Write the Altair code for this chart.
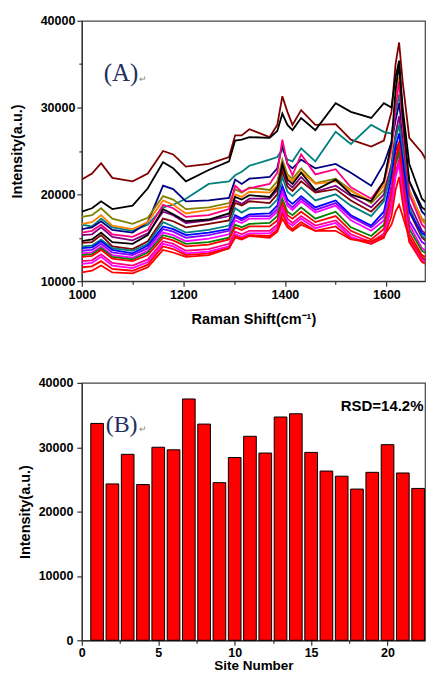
import altair as alt
import pandas as pd

# ---------------- Panel A: Raman spectra ----------------
shift = [1000, 1020, 1038, 1060, 1100, 1130, 1160, 1180, 1205, 1250, 1290, 1302, 1315, 1330, 1370, 1385,
         1395, 1405, 1415, 1432, 1460, 1500, 1530, 1570, 1595, 1610, 1618, 1625, 1632, 1645, 1670, 1700]

wine1 = [21700, 22400, 23600, 21900, 21500, 22400, 25000, 24600, 23200, 23500, 24300, 26800, 26800, 27500, 26600, 28000,
         31300, 29500, 28000, 29700, 28000, 28100, 26300, 25500, 26200, 29500, 35000, 37500, 33000, 26500, 24800, 21700]
black1 = [18000, 18400, 19200, 18300, 18700, 20700, 23700, 23000, 21500, 22800, 23800, 26200, 26300, 26600, 26500, 27300,
          29300, 28000, 27400, 28800, 27400, 30500, 29500, 28800, 30500, 30000, 33500, 35400, 30000, 23500, 19500, 17700]
teal1 = [16500, 16300, 17200, 16200, 15800, 16500, 18500, 18800, 19500, 21200, 21500, 22200, 22600, 23300, 24000, 24300,
         25200, 24000, 23800, 25300, 23800, 27200, 25800, 28000, 27200, 27000, 29500, 31500, 27000, 20500, 17000, 15300]
navy1 = [16000, 16200, 16900, 15900, 15600, 16800, 21000, 20600, 19200, 19300, 19600, 21700, 21200, 21800, 22000, 23000,
         25700, 23500, 23000, 24000, 23000, 23500, 22500, 21000, 23500, 26000, 28500, 30500, 27000, 21500, 18000, 16300]
olive1 = [17400, 17600, 18400, 17200, 16600, 17300, 19800, 19400, 18300, 18500, 19000, 20600, 20200, 20800, 20500, 21500,
          24000, 22300, 21800, 23000, 21300, 21800, 20500, 19000, 20500, 23000, 26500, 28000, 25000, 20000, 17200, 15700]
orange1 = [16600, 16800, 17600, 16400, 16000, 16800, 19300, 18800, 17800, 18200, 18600, 20000, 19700, 20300, 20200, 21000,
           23600, 22000, 21500, 22600, 21200, 21500, 20400, 19200, 21000, 25000, 31000, 33500, 28000, 20500, 17000, 15500]
pink1 = [15600, 15800, 16500, 15400, 15100, 15900, 18800, 18400, 17400, 17600, 18300, 21000, 20300, 20700, 21200, 22500,
         26300, 23500, 22200, 24600, 22300, 22900, 20800, 19500, 21500, 25500, 30000, 33000, 28000, 20000, 16500, 14800]
purple1 = [15300, 15400, 16200, 15100, 14700, 15500, 18000, 17600, 16700, 17000, 17500, 19300, 18900, 19500, 19500, 20500,
           23200, 21300, 20800, 22000, 20300, 21000, 19800, 18500, 20000, 23500, 27000, 29000, 25500, 19000, 15800, 14300]
black2 = [14600, 14800, 15600, 14500, 14300, 15300, 18300, 17700, 16900, 17100, 17800, 19700, 19400, 19900, 19700, 20800,
          23500, 21700, 21200, 22500, 20500, 21700, 20000, 19200, 21500, 26000, 32000, 35000, 29000, 21500, 18500, 17200]
wine2 = [14400, 14500, 15300, 14000, 13700, 14600, 17200, 16900, 16200, 16600, 17000, 19000, 18700, 19200, 19000, 20000,
         22600, 20900, 20400, 21500, 20200, 20600, 19300, 18000, 19500, 22500, 25000, 26000, 23500, 18000, 15000, 13600]
teal2 = [14000, 14100, 14800, 13800, 13500, 14300, 16800, 16300, 15600, 15900, 16400, 18400, 17900, 18400, 18500, 19400,
         22000, 20300, 19800, 20800, 19300, 20000, 18700, 17500, 19200, 23000, 26500, 28000, 25000, 18500, 15200, 13800]
blue1 = [13800, 13900, 14600, 13600, 13200, 14100, 16300, 16000, 15300, 15600, 16000, 17600, 17200, 17700, 17800, 18700,
         21000, 19400, 18900, 19800, 18500, 19300, 17600, 16400, 18000, 22000, 25500, 27000, 24000, 18000, 15500, 14500]
violet1 = [13500, 13600, 14300, 13300, 13000, 13800, 16000, 15700, 15000, 15300, 15800, 17400, 17000, 17500, 17500, 18300,
           20500, 19000, 18500, 19500, 18200, 19000, 17400, 16200, 17500, 21000, 24000, 25500, 22500, 17000, 14500, 13300]
magenta1 = [13200, 13300, 14000, 13000, 12700, 13500, 15600, 15300, 14600, 14900, 15400, 17000, 16700, 17200, 17200, 18000,
            20200, 18700, 18200, 19200, 17900, 18700, 17000, 15800, 17000, 20500, 23500, 24500, 21500, 16500, 13800, 12700]
green1 = [13000, 13100, 13800, 12800, 12500, 13300, 15300, 15000, 14300, 14500, 15000, 16500, 16200, 16600, 16700, 17500,
          19500, 18000, 17600, 18500, 17200, 18000, 16200, 15200, 16500, 20000, 23500, 25000, 21500, 16000, 13500, 12500]
red1 = [12800, 12900, 13600, 12600, 12300, 13000, 15000, 14700, 14000, 14200, 14800, 16200, 15900, 16300, 16300, 17000,
        19000, 17600, 17200, 18000, 16800, 17500, 15800, 14800, 16000, 20000, 24000, 26000, 22000, 15500, 13000, 12000]
pink2 = [12300, 12400, 13100, 12100, 11800, 12500, 14600, 14300, 13500, 13700, 14300, 15700, 15400, 15800, 15800, 16500,
         18600, 17200, 16700, 17500, 16400, 17000, 15400, 14500, 15500, 19000, 22500, 24000, 20500, 15000, 12600, 11600]
magenta2 = [12000, 12100, 12800, 11800, 11500, 12200, 14300, 14000, 13200, 13400, 14000, 15400, 15100, 15500, 15500, 16200,
            18200, 16800, 16400, 17200, 16100, 16700, 15100, 14300, 15200, 18500, 22000, 23500, 20000, 14800, 12400, 11400]
red2 = [11600, 11700, 12300, 11400, 11200, 11900, 14000, 13700, 13000, 13200, 13800, 15200, 14900, 15300, 15200, 15900,
        17800, 16500, 16000, 16800, 15800, 16300, 14900, 14300, 15000, 17500, 20500, 22000, 19000, 14500, 12200, 11300]
red3 = [11000, 11200, 11800, 11000, 10900, 11600, 13600, 13300, 12800, 13000, 13800, 15000, 14800, 15200, 15000, 15700,
        17200, 16200, 15800, 16500, 15800, 15800, 14800, 14600, 15200, 16500, 18000, 18800, 17500, 15000, 12800, 11300]

series_names = ["s01", "s02", "s03", "s04", "s05", "s06", "s07", "s08", "s09", "s10",
                "s11", "s12", "s13", "s14", "s15", "s16", "s17", "s18", "s19", "s20"]
series_colors = ["#800000", "#000000", "#008080", "#000080", "#808000", "#FF8000", "#FF0080", "#800080", "#000000", "#800000",
                 "#008080", "#0000FF", "#8000FF", "#FF00FF", "#008000", "#FF0000", "#FF0080", "#FF00FF", "#FF0000", "#FF0000"]
series_values = [wine1, black1, teal1, navy1, olive1, orange1, pink1, purple1, black2, wine2,
                 teal2, blue1, violet1, magenta1, green1, red1, pink2, magenta2, red2, red3]

x_ticks_a = [1000, 1100, 1200, 1300, 1400, 1500, 1600]
y_ticks_a = [10000, 15000, 20000, 25000, 30000, 35000, 40000]

# ---------------- Panel B: bar chart ----------------
sites = list(range(1, 23))
site_intensity = [33700, 24300, 28900, 24200, 30000, 29600, 37500, 33600, 24500, 28400, 31700,
                  29100, 34700, 35200, 29200, 26300, 25500, 23500, 26100, 30400, 26000, 23600]
x_ticks_b = [0, 2.5, 5, 7.5, 10, 12.5, 15, 17.5, 20, 22.5]
y_ticks_b = [0, 5000, 10000, 15000, 20000, 25000, 30000, 35000, 40000]

panel_labels = ["(A)", "(B)"]
return_mark = "↵"
rsd_label = "RSD=14.2%"

rows = []
for name, vals in zip(series_names, series_values):
    assert len(vals) == len(shift), name
    for s, v in zip(shift, vals):
        rows.append({"series": name, "shift": s, "intensity": v})
spec_df = pd.DataFrame(rows)
bar_df = pd.DataFrame({"site": sites, "intensity": site_intensity})

FONT = "Liberation Sans"
SERIF = "Liberation Serif"
AX = "#333333"
W = 344

x_a = alt.X("shift:Q",
            scale=alt.Scale(domain=[1000, 1676], nice=False, zero=False),
            axis=alt.Axis(title="Raman Shift(cm⁻¹)", values=x_ticks_a, format="d",
                          labelExpr="datum.value % 200 == 0 ? datum.label : ''",
                          tickSize={"condition": {"test": "datum.value % 200 == 0", "value": 5}, "value": 3},
                          labelFlush=False, labelPadding=2, titlePadding=12))
y_a = alt.Y("intensity:Q",
            scale=alt.Scale(domain=[10000, 40000], nice=False, zero=False),
            axis=alt.Axis(title="Intensity(a.u.)", values=y_ticks_a, format="d",
                          labelExpr="datum.value % 10000 == 0 ? datum.label : ''",
                          tickSize={"condition": {"test": "datum.value % 10000 == 0", "value": 5}, "value": 3},
                          labelFlush=False, labelPadding=2, titlePadding=16))

lines = alt.Chart(spec_df).mark_line(strokeWidth=1.8, clip=True).encode(
    x=x_a, y=y_a,
    color=alt.Color("series:N", scale=alt.Scale(domain=series_names, range=series_colors), legend=None),
)

text_a = alt.Chart(pd.DataFrame({"t": [panel_labels[0]]})).mark_text(
    font=SERIF, fontSize=25, color="#1F2F5F", align="left", baseline="middle"
).encode(text="t:N", x=alt.datum(1043), y=alt.datum(34000))
ret_a = alt.Chart(pd.DataFrame({"t": [return_mark]})).mark_text(
    font=FONT, fontSize=9, color="#888888", align="left", baseline="middle"
).encode(text="t:N", x=alt.datum(1112), y=alt.datum(33300))

top = alt.layer(lines, text_a, ret_a).properties(width=W, height=261)

x_b = alt.X("site:Q",
            scale=alt.Scale(domain=[0, 22.45], nice=False, zero=False, padding=0),
            axis=alt.Axis(title="Site Number", values=x_ticks_b, format="d",
                          labelExpr="datum.value % 5 == 0 ? datum.label : ''",
                          tickSize={"condition": {"test": "datum.value % 5 == 0", "value": 5}, "value": 3},
                          labelFlush=False, labelPadding=1, titlePadding=0, titleFontSize=13.5))
y_b = alt.Y("intensity:Q",
            scale=alt.Scale(domain=[0, 40000], nice=False),
            axis=alt.Axis(title="Intensity(a.u.)", values=y_ticks_b, format="d",
                          labelExpr="datum.value % 10000 == 0 ? datum.label : ''",
                          tickSize={"condition": {"test": "datum.value % 10000 == 0", "value": 5}, "value": 3},
                          labelFlush=False, labelPadding=4, titlePadding=6))

bars = alt.Chart(bar_df).mark_bar(size=12.7, color="#FF0000", stroke="#000000", strokeWidth=1).encode(
    x=x_b, y=y_b)

text_b = alt.Chart(pd.DataFrame({"t": [panel_labels[1]]})).mark_text(
    font=SERIF, fontSize=24, color="#1F2F5F", align="left", baseline="middle"
).encode(text="t:N", x=alt.datum(1.56), y=alt.datum(33500))
ret_b = alt.Chart(pd.DataFrame({"t": [return_mark]})).mark_text(
    font=FONT, fontSize=9, color="#888888", align="left", baseline="middle"
).encode(text="t:N", x=alt.datum(3.72), y=alt.datum(32800))
rsd = alt.Chart(pd.DataFrame({"t": [rsd_label]})).mark_text(
    font=FONT, fontSize=15, fontWeight="bold", color="#000000", align="right", baseline="middle"
).encode(text="t:N", x=alt.datum(22.35), y=alt.datum(36400))

bottom = alt.layer(bars, text_b, ret_b, rsd).properties(width=W, height=258)

chart = alt.vconcat(top, bottom, spacing=49).properties(
    padding={"left": 0, "top": 5, "right": 0, "bottom": -2}
).configure_view(
    stroke="#444444", strokeWidth=1.2
).configure_axis(
    grid=False, domainColor=AX, tickColor=AX, domainWidth=1.2, tickWidth=1.2,
    labelFont=FONT, labelFontWeight="bold", labelFontSize=12.5, labelColor="#000000",
    titleFont=FONT, titleFontWeight="bold", titleFontSize=14.5, titleColor="#000000",
)

chart.save("out.html", embed_options={"renderer": "svg", "actions": False})
